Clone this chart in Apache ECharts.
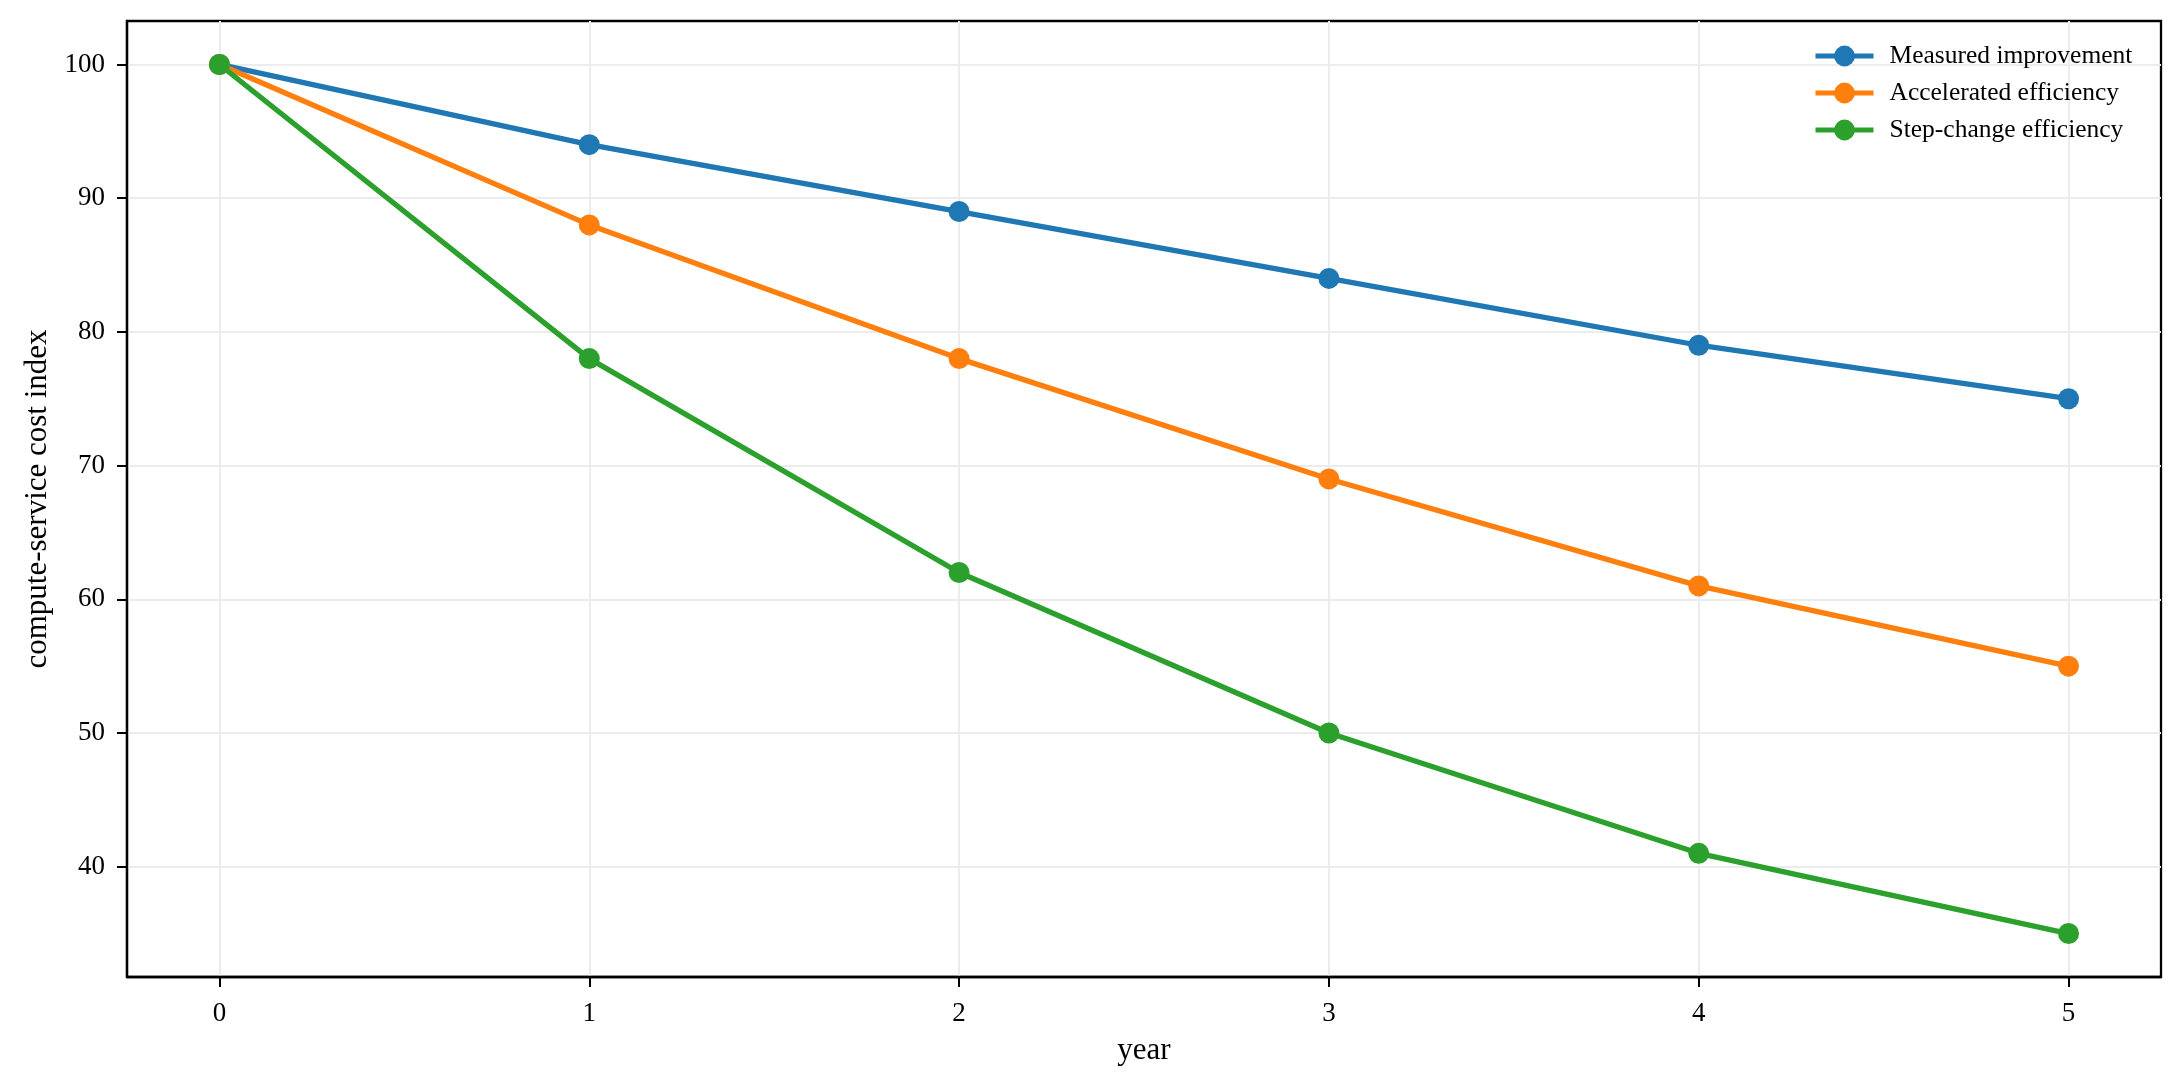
<!DOCTYPE html>
<html><head><meta charset="utf-8">
<script src="https://cdn.jsdelivr.net/npm/echarts@6/dist/echarts.min.js"></script>
<style>html,body{margin:0;padding:0;background:#fff}#c{width:2184px;height:1087px}</style>
</head><body><div id="c"></div>
<script>
const years = [0, 1, 2, 3, 4, 5];
const measured = [100, 94, 89, 84, 79, 75];
const accelerated = [100, 88, 78, 69, 61, 55];
const stepChange = [100, 78, 62, 50, 41, 35];
const seriesNames = ['Measured improvement', 'Accelerated efficiency', 'Step-change efficiency'];
const colors = ['#1f77b4', '#ff7f0e', '#2ca02c'];
const xTicks = [0, 1, 2, 3, 4, 5];
const yTicks = [40, 50, 60, 70, 80, 90, 100];

const font = 'Liberation Serif';
const chart = echarts.init(document.getElementById('c'));
const mk = (name, vals, color) => ({
  name, type: 'line', data: years.map((x, i) => [x, vals[i]]),
  symbol: 'circle', symbolSize: 21, color,
  lineStyle: {width: 5.3, color}, itemStyle: {color},
  emphasis: {disabled: true}, z: 3
});
const axisCommon = {
  axisLine: {show: true, onZero: false, lineStyle: {color: '#000', width: 2.3}},
  axisTick: {show: true, inside: false, length: 10, lineStyle: {color: '#000', width: 2}},
  splitLine: {show: true, lineStyle: {color: '#ececec', width: 2}},
  nameTextStyle: {fontFamily: font, fontSize: 31, color: '#000'}
};
chart.setOption({
  animation: false,
  backgroundColor: '#fff',
  grid: {left: 127, right: 23, top: 21, bottom: 110, containLabel: false,
         show: true, borderColor: '#000', borderWidth: 2.3},
  legend: {
    orient: 'vertical', left: 1813, top: 43, padding: 0,
    itemWidth: 58, itemHeight: 26, itemGap: 11,
    lineStyle: {width: 5},
    textStyle: {fontFamily: font, fontSize: 25.5, color: '#000', padding: [0, 0, 0, 11]},
    data: seriesNames
  },
  xAxis: Object.assign({}, axisCommon, {
    type: 'value', min: -0.25, max: 5.25,
    name: 'year', nameLocation: 'middle', nameGap: 58,
    axisTick: Object.assign({}, axisCommon.axisTick, {customValues: xTicks}),
    axisLabel: {customValues: xTicks, fontFamily: font, fontSize: 27, color: '#000', margin: 23}
  }),
  yAxis: Object.assign({}, axisCommon, {
    type: 'value', min: 31.75, max: 103.25,
    name: 'compute-service cost index', nameLocation: 'middle', nameGap: 74,
    axisTick: Object.assign({}, axisCommon.axisTick, {customValues: yTicks}),
    axisLabel: {customValues: yTicks, fontFamily: font, fontSize: 27, color: '#000', margin: 22}
  }),
  series: [
    mk(seriesNames[0], measured, colors[0]),
    mk(seriesNames[1], accelerated, colors[1]),
    mk(seriesNames[2], stepChange, colors[2])
  ]
});
</script></body></html>
